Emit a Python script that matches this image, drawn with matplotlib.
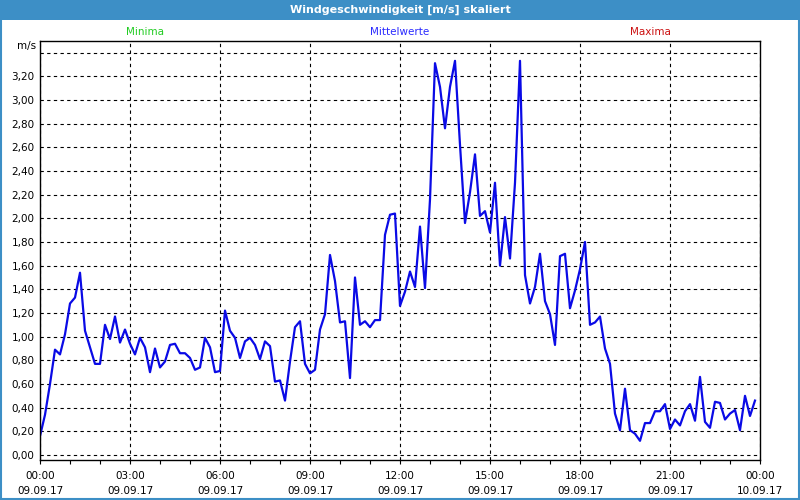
import matplotlib
matplotlib.use("Agg")
import matplotlib.pyplot as plt
import matplotlib.dates as mdates
from matplotlib.patches import Rectangle
from matplotlib.ticker import FuncFormatter
import pandas as pd

# Windgeschwindigkeit in m/s, alle 10 Minuten ab 09.09.17 00:00
werte = [
    0.16, 0.34, 0.60, 0.89, 0.85, 1.02, 1.28, 1.33, 1.54, 1.05, 0.91, 0.77,
    0.77, 1.10, 0.98, 1.17, 0.95, 1.06, 0.94, 0.85, 0.99, 0.91, 0.70, 0.90,
    0.74, 0.79, 0.93, 0.94, 0.86, 0.86, 0.82, 0.72, 0.74, 0.99, 0.91, 0.70,
    0.71, 1.22, 1.05, 0.99, 0.82, 0.96, 0.99, 0.93, 0.81, 0.96, 0.92, 0.62,
    0.63, 0.46, 0.79, 1.08, 1.13, 0.77, 0.69, 0.72, 1.06, 1.19, 1.69, 1.47,
    1.12, 1.13, 0.65, 1.50, 1.10, 1.13, 1.08, 1.14, 1.14, 1.86, 2.03, 2.04,
    1.26, 1.38, 1.55, 1.42, 1.93, 1.41, 2.16, 3.31, 3.11, 2.76, 3.11, 3.33,
    2.62, 1.96, 2.22, 2.54, 2.02, 2.06, 1.88, 2.30, 1.60, 2.01, 1.66, 2.30,
    3.33, 1.52, 1.28, 1.42, 1.70, 1.30, 1.19, 0.93, 1.68, 1.70, 1.24, 1.39,
    1.57, 1.80, 1.10, 1.12, 1.17, 0.90, 0.77, 0.35, 0.21, 0.56, 0.21, 0.18,
    0.12, 0.27, 0.27, 0.37, 0.37, 0.43, 0.22, 0.30, 0.25, 0.37, 0.43, 0.29,
    0.66, 0.28, 0.23, 0.45, 0.44, 0.30, 0.35, 0.38, 0.21, 0.50, 0.33, 0.46,
]
zeiten = pd.date_range("2017-09-09 00:00", periods=len(werte), freq="10min")

titel = "Windgeschwindigkeit [m/s] skaliert"
kopf_texte = ["Minima", "Mittelwerte", "Maxima"]
kopf_farben = ["#22cc22", "#2a2aff", "#cc1010"]
y_ticks = [0.0, 0.2, 0.4, 0.6, 0.8, 1.0, 1.2, 1.4, 1.6, 1.8, 2.0, 2.2, 2.4,
           2.6, 2.8, 3.0, 3.2, 3.4]

blau_rahmen = "#3d8fc6"
plt.rcParams['font.family'] = ['DejaVu Sans']

fig = plt.figure(figsize=(8, 5), dpi=100)
fig.patch.set_facecolor("white")

# Titelleiste und Fensterrahmen
fig.patches.append(Rectangle((0, 0.96), 1, 0.04, transform=fig.transFigure,
                             facecolor=blau_rahmen, edgecolor="none", zorder=0))
fig.patches.append(Rectangle((0.001, 0.003), 0.998, 0.994, transform=fig.transFigure,
                             facecolor="none", edgecolor=blau_rahmen, lw=1.5, zorder=0))
fig.text(0.5, 0.98, titel, ha="center", va="center", color="white",
         fontsize=8, fontweight="bold")

for text, farbe, xpos in zip(kopf_texte, kopf_farben, [0.181, 0.5, 0.813]):
    fig.text(xpos, 0.936, text, ha="center", va="center", color=farbe, fontsize=7.5)

ax = fig.add_axes([0.05, 0.08, 0.9, 0.8386])
ax.plot(zeiten, werte, color="#0a0ae6", lw=1.6)

ax.set_xlim(pd.Timestamp("2017-09-09 00:00"), pd.Timestamp("2017-09-10 00:00"))
ax.set_ylim(-0.042, 3.5)

ax.xaxis.set_major_locator(mdates.HourLocator(interval=3))
ax.xaxis.set_minor_locator(mdates.HourLocator(interval=1))
ax.xaxis.set_major_formatter(mdates.DateFormatter("%H:%M\n%d.%m.%y"))
ax.set_yticks(y_ticks)
ax.yaxis.set_major_formatter(FuncFormatter(
    lambda v, p: "" if v > 3.3 else f"{v:.2f}".replace(".", ",")))

ax.tick_params(axis="x", which="both", direction="out", length=3, width=0.8,
               labelsize=7.5, pad=5)
ax.tick_params(axis="y", length=0, labelsize=7.5, pad=4)
for lbl in ax.get_xticklabels():
    lbl.set_linespacing(1.65)

ax.grid(True, which="major", color="black", linestyle=(0, (3, 3)), lw=0.8)
for s in ax.spines.values():
    s.set_color("black")
    s.set_linewidth(1.0)

fig.text(0.045, 0.908, "m/s", ha="right", va="center", fontsize=7.5)

fig.savefig("out.png", dpi=100)
